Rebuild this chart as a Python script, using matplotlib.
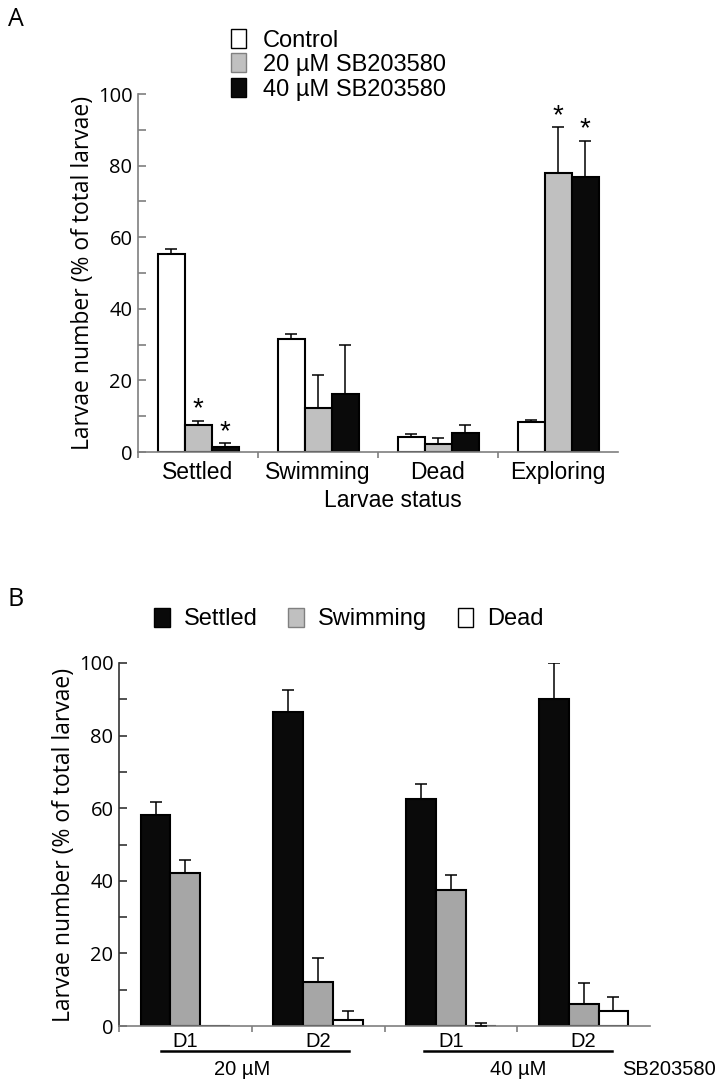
import numpy as np
import matplotlib
matplotlib.use("Agg")
import matplotlib.pyplot as plt
from matplotlib.patches import Patch
from matplotlib.ticker import MultipleLocator

plt.rcParams['font.family'] = ['Liberation Sans', 'DejaVu Sans']
NUMFONT = ['Open Sans', 'DejaVu Sans']

# Panel A data
status = ["Settled", "Swimming", "Dead", "Exploring"]
treatments_a = ["Control", "20 µM SB203580", "40 µM SB203580"]
control_mean = [55.3, 31.7, 4.2, 8.4]
control_err = [1.3, 1.4, 0.9, 0.6]
sb20_mean = [7.5, 12.4, 2.2, 78.0]
sb20_err = [1.2, 9.1, 1.8, 12.8]
sb40_mean = [1.3, 16.2, 5.4, 76.9]
sb40_err = [1.2, 13.6, 2.1, 10.1]
# asterisks: (treatment index, status index)
signif_a = [(1, 0), (2, 0), (1, 3), (2, 3)]

# Panel B data
groups_b = ["D1", "D2", "D1", "D2"]
conc_b = ["20 µM", "40 µM"]
outcomes_b = ["Settled", "Swimming", "Dead"]
settled_mean = [58.1, 86.4, 62.6, 90.2]
settled_err = [3.7, 6.2, 4.0, 9.8]
swimming_mean = [42.1, 12.1, 37.5, 6.1]
swimming_err = [3.5, 6.5, 4.0, 5.7]
dead_mean = [0.0, 1.65, 0.0, 4.0]
dead_err = [0.0, 2.35, 0.9, 3.9]

WHITE, LGRAY, MGRAY, BLACK = "white", "#c0c0c0", "#a6a6a6", "#0a0a0a"
AXC = "#7f7f7f"

fig = plt.figure(figsize=(7.21, 10.86), dpi=100)


def style_axis(ax, n, leftc):
    ax.set_xlim(-0.5, n - 0.5)
    ax.set_ylim(0, 100)
    for s in ["top", "right"]:
        ax.spines[s].set_visible(False)
    ax.spines["left"].set_color(leftc)
    ax.spines["bottom"].set_color(AXC)
    for s in ["left", "bottom"]:
        ax.spines[s].set_linewidth(1.2)
    ax.yaxis.set_major_locator(MultipleLocator(20))
    ax.yaxis.set_minor_locator(MultipleLocator(10))
    ax.tick_params(axis="y", which="both", direction="in", length=6, color=leftc, width=1.2,
                   labelsize=14.5, pad=4)
    for lab in ax.get_yticklabels():
        lab.set_family(NUMFONT)
    ax.set_xticks(np.arange(n))
    ax.set_xticks(np.arange(n) - 0.5, minor=True)
    ax.tick_params(axis="x", which="major", length=0, labelsize=16.5, pad=6.5)
    ax.tick_params(axis="x", which="minor", direction="out", length=4, color=AXC, width=1.2)
    ax.set_ylabel("Larvae number (% of total larvae)", fontsize=16.5, family=NUMFONT, labelpad=2)


def draw_bars(ax, means, errs, colors, width=0.225):
    n = len(means)
    x = np.arange(len(means[0]))
    tops = []
    for i, (m, e, c) in enumerate(zip(means, errs, colors)):
        xi = x + (i - (n - 1) / 2) * width
        ax.bar(xi, m, width, color=c, edgecolor="black", linewidth=1.5, zorder=2)
        for xx, mm, ee in zip(xi, m, e):
            if ee > 0:
                ax.errorbar(xx, mm, yerr=[[0], [ee]], fmt="none", ecolor="black",
                            elinewidth=1.1, capsize=4, capthick=1.1, zorder=3)
        tops.append((xi, np.array(m) + np.array(e)))
    return tops


# ---- Panel A ----
axA = fig.add_axes([138 / 721, 1 - 452 / 1086, 480 / 721, 358 / 1086])
style_axis(axA, len(status), AXC)
topsA = draw_bars(axA, [control_mean, sb20_mean, sb40_mean],
                  [control_err, sb20_err, sb40_err], [WHITE, LGRAY, BLACK])
for t, s in signif_a:
    xi, top = topsA[t]
    axA.text(xi[s], top[s] - 0.5, "*", ha="center", va="bottom", fontsize=20)
axA.set_xticklabels(status)
axA.set_xlabel("Larvae status", fontsize=16.5, va="center")
axA.xaxis.set_label_coords(0.53, -0.136)
fig.text(8 / 721, 1 - 20 / 1086, "A", fontsize=18, va="center", ha="left", family=NUMFONT)

fig.legend(handles=[Patch(facecolor=c, edgecolor=ec, label=l)
                    for c, ec, l in zip([WHITE, LGRAY, BLACK], ["black", "#808080", "black"], treatments_a)],
           loc="upper left", bbox_to_anchor=(231 / 721, 1 - 29 / 1086), frameon=False,
           fontsize=17, handlelength=0.65, handleheight=0.85, handletextpad=0.7,
           labelspacing=0.08, borderaxespad=0, borderpad=0)

# ---- Panel B ----
axB = fig.add_axes([119 / 721, 60 / 1086, 531 / 721, 363 / 1086])
style_axis(axB, len(groups_b), "#333333")
draw_bars(axB, [settled_mean, swimming_mean, dead_mean],
          [settled_err, swimming_err, dead_err], [BLACK, MGRAY, WHITE])
axB.set_xticklabels(groups_b)
axB.tick_params(axis="x", which="major", labelsize=14.5, pad=4)
tr = axB.get_xaxis_transform()
for (x0, x1), lab, xl in zip([(-0.18, 1.23), (1.80, 3.21)], conc_b, [0.43, 2.51]):
    axB.plot([x0, x1], [-0.069, -0.069], transform=tr, color="black", lw=1.8, clip_on=False)
    axB.text(xl, -0.121, lab, transform=tr, ha="center", va="center", fontsize=14.5)
axB.text(3.64, -0.121, "SB203580", transform=tr, ha="center", va="center", fontsize=14.5)
fig.text(8 / 721, 1 - 600 / 1086, "B", fontsize=18, va="center", ha="left", family=NUMFONT)

fig.legend(handles=[Patch(facecolor=c, edgecolor=ec, label=l)
                    for c, ec, l in zip([BLACK, LGRAY, WHITE], ["black", "#808080", "black"], outcomes_b)],
           loc="center", bbox_to_anchor=(349 / 721, 1 - 619 / 1086), ncol=3, frameon=False,
           fontsize=17, handlelength=0.65, handleheight=0.85, handletextpad=0.6,
           columnspacing=1.3, borderaxespad=0)

fig.savefig("out.png", dpi=100)
